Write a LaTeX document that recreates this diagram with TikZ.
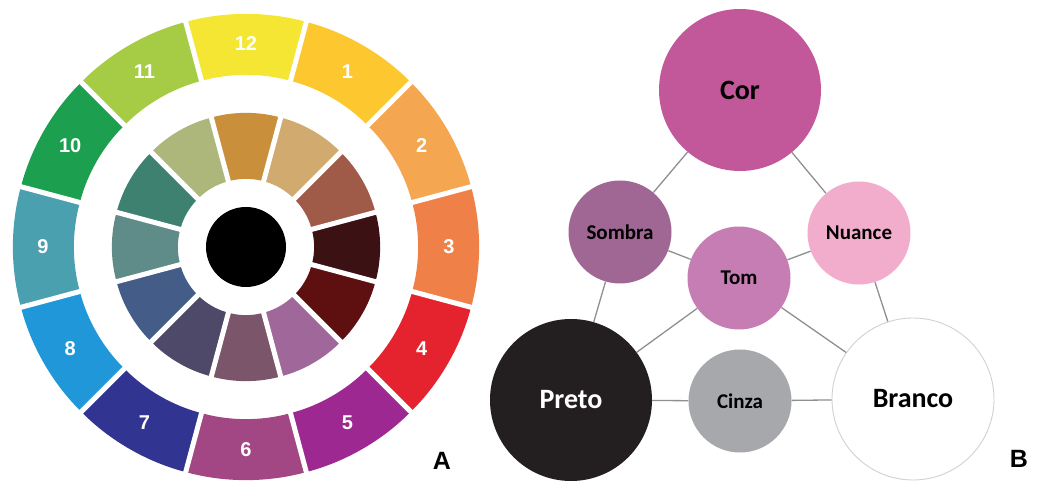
\documentclass[tikz,border=0pt]{standalone}
\usepackage{fontspec}
\setmainfont{Carlito}
\newfontfamily\arialfont{Liberation Sans}
\usetikzlibrary{positioning}
\definecolor{oc1}{HTML}{FDC72F}
\definecolor{oc2}{HTML}{F5A650}
\definecolor{oc3}{HTML}{EF8148}
\definecolor{oc4}{HTML}{E5232F}
\definecolor{oc5}{HTML}{9E2891}
\definecolor{oc6}{HTML}{A24684}
\definecolor{oc7}{HTML}{313591}
\definecolor{oc8}{HTML}{1F97D8}
\definecolor{oc9}{HTML}{4BA0AF}
\definecolor{oc10}{HTML}{1CA04F}
\definecolor{oc11}{HTML}{A6CB45}
\definecolor{oc12}{HTML}{F6E634}
\definecolor{ic1}{HTML}{D1AA6F}
\definecolor{ic2}{HTML}{A05A48}
\definecolor{ic3}{HTML}{3B1113}
\definecolor{ic4}{HTML}{5E0F0F}
\definecolor{ic5}{HTML}{A0679B}
\definecolor{ic6}{HTML}{7B5569}
\definecolor{ic7}{HTML}{4F4969}
\definecolor{ic8}{HTML}{445D88}
\definecolor{ic9}{HTML}{5F8B89}
\definecolor{ic10}{HTML}{3F8171}
\definecolor{ic11}{HTML}{ADB77B}
\definecolor{ic12}{HTML}{C98F3A}
\definecolor{mcor}{HTML}{C2579A}
\definecolor{msombra}{HTML}{A06795}
\definecolor{mnuance}{HTML}{F2ADCC}
\definecolor{mtom}{HTML}{C67DB4}
\definecolor{mpreto}{HTML}{231F20}
\definecolor{mcinza}{HTML}{A7A8AB}
\definecolor{mlink}{HTML}{8F8F8F}
\tikzset{numlbl/.style = {text=white, font=\arialfont\bfseries\fontsize{20}{22}\selectfont},
         bigdot/.style = {circle, inner sep=0pt, minimum size=162pt,
                          font=\bfseries\fontsize{28}{30}\selectfont},
         smalldot/.style = {circle, inner sep=0pt, minimum size=103pt,
                            font=\bfseries\fontsize{21}{23}\selectfont},
         link/.style = {mlink, line width=1.3pt},
         panel/.style = {font=\arialfont\bfseries\fontsize{25}{27}\selectfont}}

\begin{document}
\begin{tikzpicture}[x=1pt, y=1pt]
    \useasboundingbox (0, 0) rectangle (1037, 487);

    \begin{scope}[shift={(246, 240)}]
      \foreach \k in {1,...,12} {
        \pgfmathsetmacro{\a}{90 - 30*\k}
        \fill [oc\k, rounded corners=2pt] (\a-15:233pt) arc [start angle=\a-15, end angle=\a+15, radius=233pt]
          -- (\a+15:172pt) arc [start angle=\a+15, end angle=\a-15, radius=172pt] -- cycle;
        \fill [ic\k, rounded corners=2pt] (\a-15:134pt) arc [start angle=\a-15, end angle=\a+15, radius=134pt]
          -- (\a+15:68pt) arc [start angle=\a+15, end angle=\a-15, radius=68pt] -- cycle;
      }
      \foreach \k in {1,...,12} {
        \pgfmathsetmacro{\a}{90 - 30*\k}
        \draw [white, line width=5pt] (\a+15:60pt) -- (\a+15:240pt);
        \node [numlbl] (n\k) at (\a:203pt) {\k};
      }
      \fill [black] (0, 0) circle [radius=40pt];
    \end{scope}
    \node [panel] (pa) at (442, 26) {A};

    \node [bigdot, fill=mcor] (cor) at (740, 397) {Cor};
    \node [smalldot, fill=msombra] (sombra) at (620, 255) {Sombra};
    \node [smalldot, fill=mnuance] (nuance) at (859, 254) {Nuance};
    \node [smalldot, fill=mtom] (tom) at (739, 209) {Tom};
    \node [bigdot, fill=mpreto, text=white] (preto) at (571, 87) {Preto};
    \node [smalldot, fill=mcinza] (cinza) at (740, 86) {Cinza};
    \node [bigdot, fill=white, draw=black!18, line width=0.9pt] (branco) at (913, 88) {Branco};

    \foreach \p/\q in {cor/sombra, sombra/preto, cor/nuance, nuance/branco, preto/cinza,
                       cinza/branco, sombra/tom, tom/nuance, tom/preto, tom/branco} {
      \draw [link] (\p) -- (\q);
    }
    \node [panel] (pb) at (1019, 28) {B};
\end{tikzpicture}
\end{document}
